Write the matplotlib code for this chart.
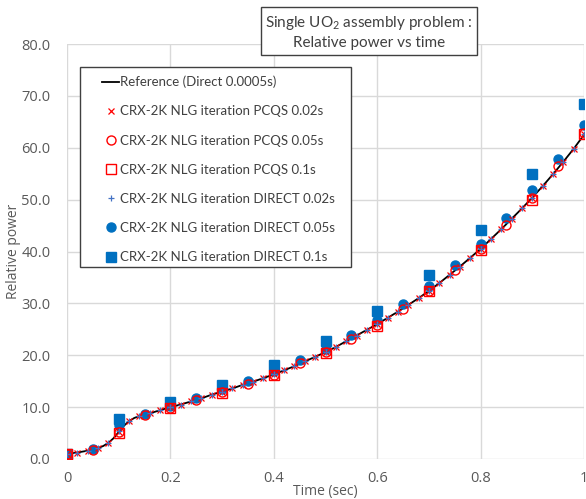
import matplotlib
matplotlib.use("Agg")
import matplotlib.pyplot as plt
from matplotlib.patches import Rectangle

plt.rcParams['font.family'] = ['Lato', 'DejaVu Sans']
plt.rcParams['mathtext.fontset'] = 'custom'
plt.rcParams['mathtext.rm'] = 'Lato'
plt.rcParams['mathtext.it'] = 'Lato:italic'

# ---- data ----
ref_t = [0.0, 0.02, 0.04, 0.06, 0.07, 0.08, 0.09, 0.10, 0.11, 0.12, 0.13, 0.14, 0.16, 0.18,
         0.20, 0.22, 0.24, 0.26, 0.28, 0.30, 0.32, 0.34, 0.36, 0.38, 0.40, 0.42, 0.44,
         0.46, 0.48, 0.50, 0.52, 0.54, 0.56, 0.58, 0.60, 0.62, 0.64, 0.66, 0.68, 0.70,
         0.72, 0.74, 0.76, 0.78, 0.80, 0.82, 0.84, 0.86, 0.88, 0.90, 0.92, 0.94, 0.96,
         0.98, 1.00]
ref_p = [1.0, 1.25, 1.6, 2.1, 2.5, 3.1, 4.0, 5.2, 6.4, 7.3, 7.9, 8.3, 8.8, 9.4,
         10.0, 10.5, 11.1, 11.7, 12.4, 13.0, 13.6, 14.3, 14.9, 15.6, 16.3, 17.1, 17.9,
         18.8, 19.7, 20.6, 21.6, 22.7, 23.8, 24.9, 26.0, 27.2, 28.4, 29.7, 31.0, 32.4,
         33.9, 35.5, 37.1, 38.8, 40.5, 42.4, 44.3, 46.3, 48.3, 50.4, 52.6, 54.9, 57.3,
         59.8, 62.5]

t002 = [0.0, 0.02, 0.04, 0.06, 0.08, 0.10, 0.12, 0.14, 0.16, 0.18, 0.20, 0.22, 0.24,
        0.26, 0.28, 0.30, 0.32, 0.34, 0.36, 0.38, 0.40, 0.42, 0.44, 0.46, 0.48, 0.50,
        0.52, 0.54, 0.56, 0.58, 0.60, 0.62, 0.64, 0.66, 0.68, 0.70, 0.72, 0.74, 0.76,
        0.78, 0.80, 0.82, 0.84, 0.86, 0.88, 0.90, 0.92, 0.94, 0.96, 0.98, 1.00]
pcqs_002 = [1.0, 1.25, 1.6, 2.1, 3.1, 5.3, 7.3, 8.3, 8.8, 9.4, 10.0, 10.5, 11.1,
            11.7, 12.4, 13.0, 13.6, 14.3, 14.9, 15.6, 16.3, 17.1, 17.9, 18.8, 19.7, 20.6,
            21.6, 22.7, 23.8, 24.9, 26.0, 27.2, 28.4, 29.7, 31.0, 32.4, 33.9, 35.5, 37.1,
            38.8, 40.5, 42.4, 44.3, 46.3, 48.3, 50.4, 52.6, 54.9, 57.3, 59.8, 62.6]
direct_002 = [1.0, 1.25, 1.6, 2.1, 3.1, 5.4, 7.3, 8.3, 8.8, 9.4, 10.0, 10.5, 11.1,
              11.7, 12.4, 13.0, 13.6, 14.3, 14.9, 15.6, 16.3, 17.1, 17.9, 18.8, 19.7, 20.6,
              21.6, 22.7, 23.8, 24.9, 26.0, 27.2, 28.4, 29.7, 31.0, 32.4, 33.9, 35.5, 37.1,
              38.8, 40.5, 42.4, 44.3, 46.3, 48.3, 50.4, 52.6, 54.9, 57.3, 59.8, 62.7]

t005 = [0.0, 0.05, 0.10, 0.15, 0.20, 0.25, 0.30, 0.35, 0.40, 0.45, 0.50, 0.55, 0.60,
        0.65, 0.70, 0.75, 0.80, 0.85, 0.90, 0.95, 1.00]
pcqs_005 = [1.0, 1.75, 5.2, 8.5, 9.9, 11.4, 12.9, 14.5, 16.2, 18.5, 20.6, 23.2, 25.9,
            29.0, 32.4, 36.4, 40.4, 45.2, 50.3, 56.4, 62.9]
direct_005 = [1.0, 1.9, 6.6, 8.7, 10.3, 11.7, 13.4, 15.0, 16.9, 19.0, 21.3, 23.9, 26.7,
              29.9, 33.4, 37.4, 41.5, 46.4, 51.8, 57.8, 64.4]

t01 = [0.0, 0.1, 0.2, 0.3, 0.4, 0.5, 0.6, 0.7, 0.8, 0.9, 1.0]
pcqs_01 = [1.0, 5.0, 9.8, 12.8, 16.1, 20.5, 25.7, 32.4, 40.2, 50.0, 62.6]
direct_01 = [1.0, 7.7, 10.9, 14.2, 18.1, 22.7, 28.5, 35.5, 44.1, 55.0, 68.4]

labels = ["Reference (Direct 0.0005s)",
          "CRX-2K NLG iteration PCQS 0.02s",
          "CRX-2K NLG iteration PCQS 0.05s",
          "CRX-2K NLG iteration PCQS 0.1s",
          "CRX-2K NLG iteration DIRECT 0.02s",
          "CRX-2K NLG iteration DIRECT 0.05s",
          "CRX-2K NLG iteration DIRECT 0.1s"]
xticks = [0, 0.2, 0.4, 0.6, 0.8, 1.0]
xticklabels = ["0", "0.2", "0.4", "0.6", "0.8", "1"]
yticks = [0, 10, 20, 30, 40, 50, 60, 70, 80]
yticklabels = ["0.0", "10.0", "20.0", "30.0", "40.0", "50.0", "60.0", "70.0", "80.0"]

RED = "#ff0000"
BLUE = "#0070c0"
BLUE2 = "#4472c4"
GRAY = "#595959"
AXFONT = "Open Sans"

W, H = 586, 499
fig = plt.figure(figsize=(W / 100, H / 100), dpi=100)
ax = fig.add_axes([67 / W, 40 / H, 517 / W, 415 / H])

h_ref, = ax.plot(ref_t, ref_p, color="black", lw=1.3, zorder=2)
h_d01, = ax.plot(t01, direct_01, ls="none", marker="s", ms=6.5, color=BLUE, mec=BLUE, zorder=3)
h_d005, = ax.plot(t005, direct_005, ls="none", marker="o", ms=6.5, color=BLUE, mec=BLUE, zorder=3)
h_p01, = ax.plot(t01, pcqs_01, ls="none", marker="s", ms=6.5, mfc="none", mec=RED, mew=1.0, zorder=4)
h_p005, = ax.plot(t005, pcqs_005, ls="none", marker="o", ms=6.5, mfc="none", mec=RED, mew=1.0, zorder=4)
h_p002, = ax.plot(t002, pcqs_002, ls="none", marker="x", ms=3.8, mec=RED, mew=0.9, zorder=5)
h_d002, = ax.plot(t002, direct_002, ls="none", marker="+", ms=3.8, mec=BLUE2, mew=0.9, zorder=5)

ax.set_xlim(0, 1)
ax.set_ylim(0, 80)
ax.set_xticks(xticks)
ax.set_xticklabels(xticklabels, fontfamily=AXFONT, fontsize=10.5)
ax.set_yticks(yticks)
ax.set_yticklabels(yticklabels, fontfamily=AXFONT, fontsize=10.5)
ax.tick_params(axis="both", length=0, colors=GRAY)
ax.tick_params(axis="y", pad=12)
ax.tick_params(axis="x", pad=9)
for s in ax.spines.values():
    s.set_visible(False)
ax.grid(True, color="#d9d9d9", lw=1.0)
ax.set_axisbelow(True)

ax.set_xlabel("Time (sec)", fontsize=10, color=GRAY, fontfamily=AXFONT)
ax.set_ylabel("Relative power", fontsize=10, color=GRAY, fontfamily=AXFONT)
ax.xaxis.set_label_coords(0.5, (459 - 491) / 415)
ax.yaxis.set_label_coords((14 - 67) / 517, 0.5)
ax.xaxis.label.set_va("center")
ax.yaxis.label.set_va("center")

# legend
leg = ax.legend([h_ref, h_p002, h_p005, h_p01, h_d002, h_d005, h_d01], labels,
                loc="upper left", bbox_to_anchor=((102 - 67) / 517, (459 - 75.7) / 415),
                frameon=False, fontsize=9.5, labelspacing=1.30, handlelength=1.3,
                handletextpad=0.1, borderpad=0, borderaxespad=0, numpoints=1)
for t in leg.get_texts():
    t.set_color("#404040")
rx0 = (79.6 - 67) / 517
ry0 = (459 - 267.3) / 415
rw = (351 - 79.6) / 517
rh = (267.3 - 67.3) / 415
ax.add_patch(Rectangle((rx0, ry0), rw, rh, transform=ax.transAxes, facecolor="white",
                       edgecolor="#404040", lw=1.0, zorder=6))
leg.set_zorder(7)

# title box
fig.text(369 / W, 1 - 32 / H, "Single UO$_2$ assembly problem :\nRelative power vs time",
         ha="center", va="center", fontsize=11, color="#404040", linespacing=1.35,
         bbox=dict(boxstyle="square,pad=0.3", facecolor="white", edgecolor="#404040", lw=1.0))

fig.savefig("out.png", dpi=100)
